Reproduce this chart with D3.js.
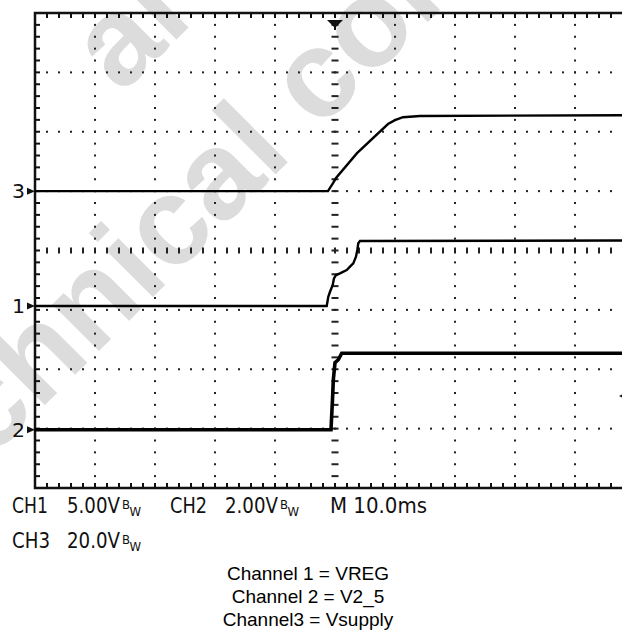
<!DOCTYPE html>
<html>
<head>
<meta charset="utf-8">
<script src="https://cdn.jsdelivr.net/npm/d3@7"></script>
<style>
  body { margin: 0; background: #fff; }
  svg { display: block; }
</style>
</head>
<body>
<div id="chart"></div>
<script>
// Time axis in ms (10 ms/div, trigger at 0), voltages in volts
const ch1Time  = [-50, -1.38, -1.12, -0.83, -0.38, -0.17, 0.17, 0.83, 1.95, 2.5, 3.05, 3.5, 3.72, 3.88, 4.17, 50];
const ch1Volts = [0, 0, 0.78, 1.2, 1.77, 2.33, 2.61, 2.75, 3.03, 3.31, 3.59, 4.15, 4.72, 5.28, 5.47, 5.52];

const ch2Time  = [-50, -0.67, -0.42, -0.28, 0, 0.55, 1.12, 50];
const ch2Volts = [0, 0, 1.01, 1.68, 2.26, 2.36, 2.58, 2.58];

const ch3Time  = [-50, -1.17, -0.33, 0.17, 3.67, 8.83, 10, 11.33, 14.17, 50];
const ch3Volts = [0, 0, 2.7, 4.4, 12.8, 22.6, 23.9, 24.9, 25.3, 25.6];

const channelNames = ['1', '2', '3'];
const voltsPerDiv = [5, 2, 20];
const offsetDiv = [-0.935, -3.02, 1.0];

const scaleLabels = [['CH1', '5.00V'], ['CH2', '2.00V'], ['CH3', '20.0V']];
const timebaseLabel = 'M 10.0ms';
const captionLines = ['Channel 1 = VREG', 'Channel 2 = V2_5', 'Channel3 = Vsupply'];

const width = 622, height = 638;
const scopeFont = "'Liberation Sans Narrow', 'DejaVu Sans Condensed', sans-serif";

const svg = d3.select('#chart').append('svg')
  .attr('width', width)
  .attr('height', height);

svg.append('rect').attr('width', width).attr('height', height).attr('fill', '#fff');

// screen: 10 x 8 divisions, right part is cut off by the picture
const x = d3.scaleLinear().domain([-50, 50]).range([35, 635]);
const y = d3.scaleLinear().domain([-4, 4]).range([488, 13]);

// watermark behind everything
const wm = svg.append('g').attr('fill', '#dcdcdc')
  .attr('font-family', "'Liberation Sans', Arial, sans-serif")
  .attr('font-weight', 'bold')
  .attr('font-size', 125);
wm.append('text').attr('transform', 'translate(-107,557) rotate(-45)').text('Technical con');
wm.append('text').attr('transform', 'translate(121,95) rotate(-45)').text('al');

const majorX = d3.range(-50, 51, 10);
const minorX = d3.range(-25, 26).map(d => d * 2);
const majorY = d3.range(-4, 5);
const minorY = d3.range(-20, 21).map(d => d / 5);

const grid = svg.append('g').attr('fill', '#222');

// dotted rows
majorY.filter(v => v > -4 && v < 4 && v !== 0).forEach(v => {
  grid.selectAll(null)
    .data(minorX.filter(t => t > -50))
    .join('rect')
    .attr('x', t => x(t) - 1)
    .attr('y', y(v) - 1)
    .attr('width', 2).attr('height', 2);
});
// dotted columns
majorX.filter(t => t > -50 && t !== 0).forEach(t => {
  grid.selectAll(null)
    .data(minorY.filter(v => v > -4 && v < 4))
    .join('rect')
    .attr('x', x(t) - 1)
    .attr('y', v => y(v) - 1)
    .attr('width', 2).attr('height', 2);
});
// center cross with minor dashes
grid.selectAll(null)
  .data(minorY.filter(v => v > -4 && v < 4))
  .join('rect')
  .attr('x', x(0) - 3.5)
  .attr('y', v => y(v) - 1)
  .attr('width', 7).attr('height', 2);
grid.selectAll(null)
  .data(minorX.filter(t => t > -50))
  .join('rect')
  .attr('x', t => x(t) - 1)
  .attr('y', y(0) - 3)
  .attr('width', 2).attr('height', 6);

// border with ticks
const border = svg.append('g').attr('stroke', '#111').attr('fill', 'none');
border.append('path')
  .attr('stroke-width', 2.5)
  .attr('d', `M${x(50)},${y(4)}H${x(-50)}V${y(-4)}H${x(50)}`);
border.selectAll('.tick-top')
  .data(minorX)
  .join('line')
  .attr('class', 'tick-top')
  .attr('stroke-width', 2)
  .attr('x1', t => x(t)).attr('x2', t => x(t))
  .attr('y1', y(4)).attr('y2', y(4) + 5);
border.selectAll('.tick-bottom')
  .data(minorX)
  .join('line')
  .attr('class', 'tick-bottom')
  .attr('stroke-width', 2)
  .attr('x1', t => x(t)).attr('x2', t => x(t))
  .attr('y1', y(-4)).attr('y2', y(-4) - 5);
border.selectAll('.tick-left')
  .data(minorY)
  .join('line')
  .attr('class', 'tick-left')
  .attr('stroke-width', 2)
  .attr('x1', x(-50)).attr('x2', x(-50) + 5)
  .attr('y1', v => y(v)).attr('y2', v => y(v));

// trigger position marker
svg.append('path')
  .attr('fill', '#111')
  .attr('d', `M${x(0) - 8},${y(4) + 7}H${x(0) + 8}L${x(0)},${y(4) + 15}Z`);
svg.append('line')
  .attr('stroke', '#111').attr('stroke-width', 2)
  .attr('x1', x(0)).attr('x2', x(0))
  .attr('y1', y(4) + 12).attr('y2', y(4) + 17);

// traces
const series = [
  { t: ch1Time, v: ch1Volts, width: 2.4 },
  { t: ch2Time, v: ch2Volts, width: 3.6 },
  { t: ch3Time, v: ch3Volts, width: 2.4 },
];

const traces = svg.append('g');
series.forEach((s, i) => {
  const pts = s.t.map((t, k) => [t, s.v[k]]);
  const line = d3.line()
    .x(d => x(d[0]))
    .y(d => y(offsetDiv[i] + d[1] / voltsPerDiv[i]));
  traces.append('path')
    .datum(pts)
    .attr('fill', 'none')
    .attr('stroke', '#000')
    .attr('stroke-width', s.width)
    .attr('stroke-linejoin', 'miter')
    .attr('d', line);
});

// ground markers on the left
const markers = svg.append('g').attr('font-family', scopeFont).attr('fill', '#111');
channelNames.forEach((name, i) => {
  const yy = y(offsetDiv[i]);
  markers.append('text')
    .attr('x', 12).attr('y', yy + 7)
    .attr('font-size', 19)
    .attr('textLength', 13)
    .attr('lengthAdjust', 'spacingAndGlyphs')
    .text(name);
  markers.append('path')
    .attr('d', `M${x(-50) - 8},${yy - 3.5}L${x(-50)},${yy}L${x(-50) - 8},${yy + 3.5}Z`);
});
// reference marker at the cut-off right edge
markers.append('path')
  .attr('d', `M${width - 3},${y(-2.45)}L${width + 4},${y(-2.45) - 3.5}V${y(-2.45) + 3.5}Z`);

// scope readout
const readout = svg.append('g').attr('font-family', scopeFont).attr('fill', '#111');
const readoutPos = [
  { x: 12, x2: 67, y: 513, w1: 36 },
  { x: 170, x2: 225, y: 513, w1: 37 },
  { x: 12, x2: 67, y: 548, w1: 38 },
];
scaleLabels.forEach((lab, i) => {
  const p = readoutPos[i];
  readout.append('text')
    .attr('x', p.x).attr('y', p.y)
    .attr('font-size', 22)
    .attr('textLength', p.w1)
    .attr('lengthAdjust', 'spacingAndGlyphs')
    .text(lab[0]);
  const t = readout.append('text')
    .attr('x', p.x2).attr('y', p.y)
    .attr('font-size', 22);
  t.append('tspan')
    .attr('textLength', 53)
    .attr('lengthAdjust', 'spacingAndGlyphs')
    .text(lab[1]);
  t.append('tspan')
    .attr('font-size', 13)
    .attr('dx', 2).attr('dy', -4)
    .text('B');
  t.append('tspan')
    .attr('font-size', 13)
    .attr('dy', 7)
    .text('W');
});
readout.append('text')
  .attr('x', 330).attr('y', 513)
  .attr('font-size', 22)
  .attr('textLength', 97)
  .attr('lengthAdjust', 'spacingAndGlyphs')
  .text(timebaseLabel);

// caption
svg.append('g')
  .attr('font-family', "'Liberation Sans', Arial, sans-serif")
  .attr('font-size', 19)
  .attr('fill', '#000')
  .attr('text-anchor', 'middle')
  .selectAll('text')
  .data(captionLines)
  .join('text')
  .attr('x', 308)
  .attr('y', (d, i) => 580 + i * 23)
  .text(d => d);
</script>
</body>
</html>
